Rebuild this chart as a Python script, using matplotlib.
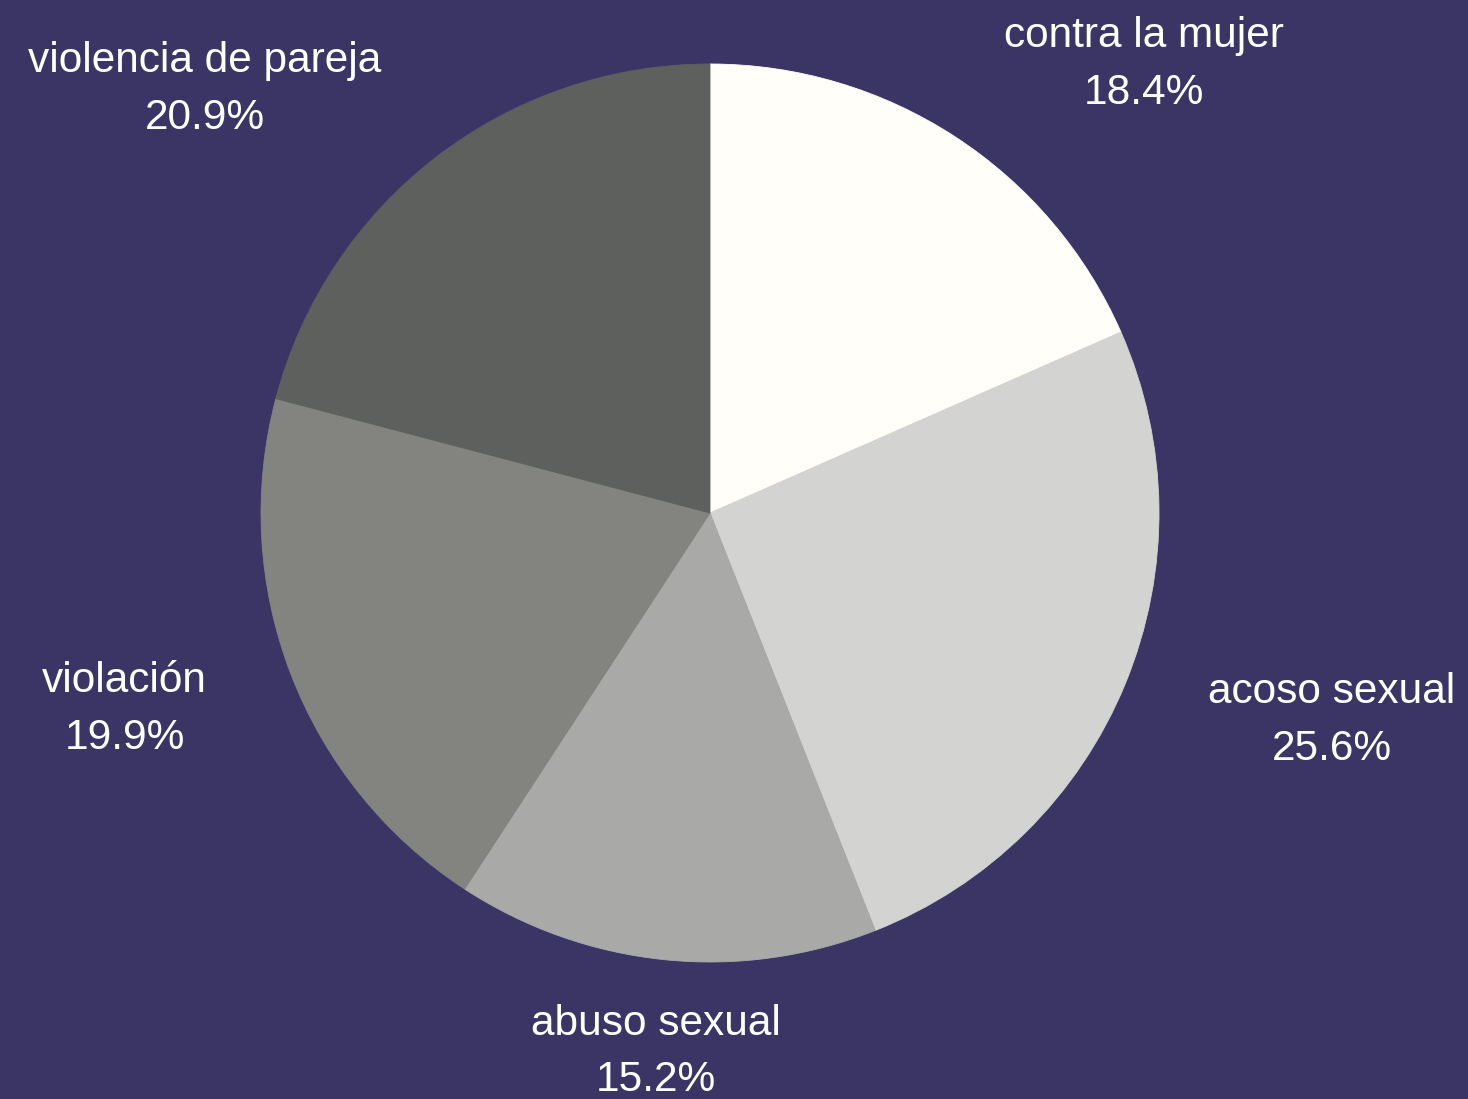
import numpy as np
import matplotlib
matplotlib.use('Agg')
import matplotlib.pyplot as plt
import matplotlib.transforms as mtransforms

# data
categories = ['contra la mujer', 'acoso sexual', 'abuso sexual', 'violación', 'violencia de pareja']
shares = [18.4, 25.6, 15.2, 19.9, 20.9]
colors = ['#FFFEF9', '#D3D3D1', '#A9AAA7', '#838480', '#5E605E']

bg = '#3B3566'
plt.rcParams['font.family'] = ['Liberation Sans', 'DejaVu Sans']

fig = plt.figure(figsize=(14.68, 10.99), dpi=100)
fig.patch.set_facecolor(bg)
ax = fig.add_axes([0, 0, 1, 1])
ax.set_facecolor(bg)

labels = [f'{c}\n{s:.1f}%' for c, s in zip(categories, shares)]
wedges, texts = ax.pie(shares, labels=labels, colors=colors, startangle=90,
                       counterclock=False, labeldistance=1.2,
                       wedgeprops=dict(linewidth=0),
                       textprops=dict(color='white', fontsize=30.5,
                                      multialignment='center', linespacing=1.54))

# hide the thin antialiasing seams between wedges
for w in wedges:
    w.set_edgecolor(w.get_facecolor())
    w.set_linewidth(0.6)

# labels close to vertical are centred on their anchor; nudge all down a touch
shift = mtransforms.offset_copy(ax.transData, fig=fig, x=0, y=-3, units='dots')
for t in texts:
    x, y = t.get_position()
    if abs(x) < 0.3:
        t.set_horizontalalignment('center')
    t.set_transform(shift)

# place the pie at the same pixel position as the reference (radius ~449 px)
R = 449.0
ax.set_xlim(-710 / R, (1468 - 710) / R)
ax.set_ylim(-(1099 - 513) / R, 513 / R)
ax.set_aspect('equal', adjustable='datalim')
ax.axis('off')

fig.savefig('out.png', dpi=100, facecolor=bg)
